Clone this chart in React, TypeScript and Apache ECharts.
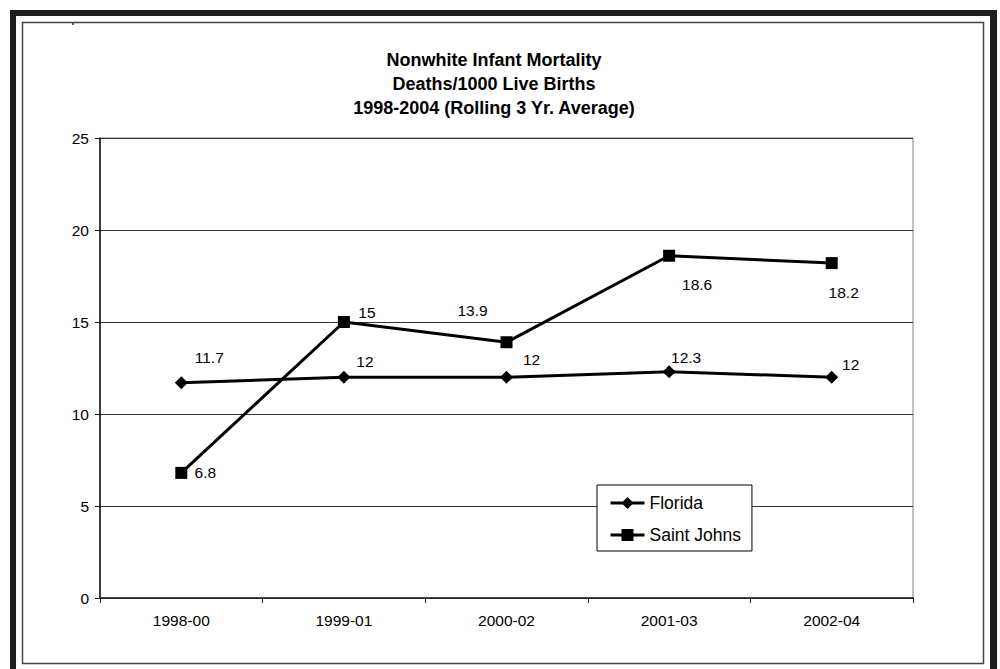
import React, { useEffect, useRef } from "react";
import * as echarts from "echarts";

const categories = ["1998-00", "1999-01", "2000-02", "2001-03", "2002-04"];
const floridaValues = [11.7, 12, 12, 12.3, 12];
const saintJohnsValues = [6.8, 15, 13.9, 18.6, 18.2];
const titleLines = [
  "Nonwhite Infant Mortality",
  "Deaths/1000 Live Births",
  "1998-2004 (Rolling 3 Yr. Average)",
];
const seriesNames = ["Florida", "Saint Johns"];

// label placement (style only)
const floridaLabelOffsets = [
  [28, -25],
  [21, -16],
  [25, -18],
  [17, -14],
  [19, -13],
];
const saintJohnsLabelOffsets = [
  [24, 0],
  [23, -10],
  [-34, -32],
  [28, 29],
  [12, 29],
];

const FONT = "'Liberation Sans', Arial, sans-serif";

export default function App() {
  const ref = useRef<HTMLDivElement>(null);

  useEffect(() => {
    document.body.style.margin = "0";
    if (!ref.current) return;
    const chart = echarts.init(ref.current, undefined, { renderer: "svg" });

    const mkData = (vals: number[], offs: number[][]) =>
      vals.map((v, i) => ({ value: v, label: { offset: offs[i] } }));

    chart.setOption({
      animation: false,
      backgroundColor: "#ffffff",
      textStyle: { fontFamily: FONT },
      graphic: [
        { type: "rect", shape: { x: 10, y: 10, width: 987, height: 6 }, style: { fill: "#1e1e1e" } },
        { type: "rect", shape: { x: 10, y: 10, width: 6, height: 659 }, style: { fill: "#1e1e1e" } },
        { type: "rect", shape: { x: 990, y: 10, width: 7, height: 659 }, style: { fill: "#1e1e1e" } },
        {
          type: "rect",
          shape: { x: 22.5, y: 22.5, width: 961, height: 641 },
          style: { fill: "none", stroke: "#444", lineWidth: 1.5 },
        },
        { type: "rect", shape: { x: 72, y: 23, width: 2, height: 2 }, style: { fill: "#555" } },
        {
          type: "text",
          x: 494,
          y: 48,
          style: {
            text: titleLines.join("\n"),
            align: "center",
            verticalAlign: "top",
            fontFamily: FONT,
            fontWeight: "bold",
            fontSize: 18,
            lineHeight: 24,
            fill: "#000",
          },
        },
      ],
      grid: {
        left: 100,
        top: 138,
        width: 813,
        height: 460,
        show: true,
        borderColor: "#808080",
        borderWidth: 1,
        backgroundColor: "transparent",
      },
      legend: {
        orient: "vertical",
        left: 597,
        top: 485,
        data: seriesNames,
        padding: [9, 11, 7, 12],
        itemGap: 14,
        itemWidth: 34,
        itemHeight: 15,
        borderColor: "#000",
        borderWidth: 1,
        backgroundColor: "#fff",
        lineStyle: { width: 3, color: "#000" },
        textStyle: { fontFamily: FONT, fontSize: 17.5, color: "#000", lineHeight: 18 },
      },
      xAxis: {
        type: "category",
        data: categories,
        boundaryGap: true,
        axisLine: { show: true, lineStyle: { color: "#222", width: 1.5 } },
        axisTick: { show: true, length: 5, lineStyle: { color: "#222" } },
        axisLabel: { fontFamily: FONT, fontSize: 15.5, color: "#000", margin: 14 },
        splitLine: { show: false },
      },
      yAxis: {
        type: "value",
        min: 0,
        max: 25,
        interval: 5,
        axisLine: { show: true, lineStyle: { color: "#111", width: 1.5 } },
        axisTick: { show: true, length: 5, lineStyle: { color: "#111" } },
        axisLabel: { fontFamily: FONT, fontSize: 15.5, color: "#000", margin: 11 },
        splitLine: { show: true, lineStyle: { color: "#333", width: 1 } },
      },
      series: [
        {
          name: seriesNames[0],
          type: "line",
          data: mkData(floridaValues, floridaLabelOffsets),
          symbol: "diamond",
          symbolSize: 13,
          color: "#000",
          lineStyle: { color: "#000", width: 3 },
          itemStyle: { color: "#000" },
          label: {
            show: true,
            position: "inside",
            align: "center",
            verticalAlign: "middle",
            fontFamily: FONT,
            fontSize: 15.5,
            color: "#000",
          },
          z: 3,
        },
        {
          name: seriesNames[1],
          type: "line",
          data: mkData(saintJohnsValues, saintJohnsLabelOffsets),
          symbol: "rect",
          symbolSize: 12,
          color: "#000",
          lineStyle: { color: "#000", width: 3 },
          itemStyle: { color: "#000" },
          label: {
            show: true,
            position: "inside",
            align: "center",
            verticalAlign: "middle",
            fontFamily: FONT,
            fontSize: 15.5,
            color: "#000",
          },
          z: 3,
        },
      ],
    });

    return () => chart.dispose();
  }, []);

  return <div ref={ref} style={{ width: 1000, height: 669 }} />;
}
